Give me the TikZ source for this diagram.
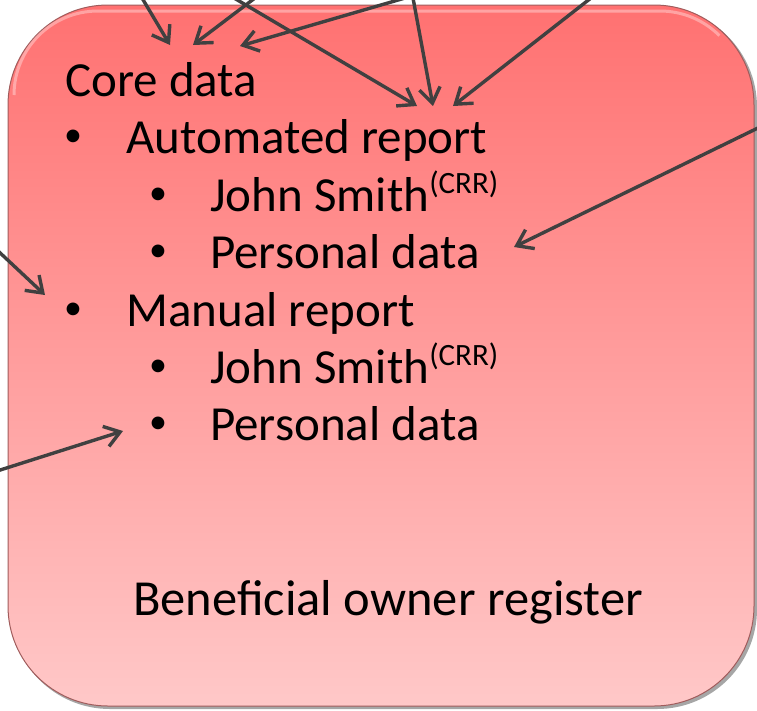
\documentclass[tikz,border=0pt]{standalone}
\usepackage{fontspec}
\setmainfont{Carlito}
\usetikzlibrary{arrows.meta}
\definecolor{arrowgray}{RGB}{64,64,64}
\definecolor{boxtop}{RGB}{255,113,113}
\definecolor{boxbot}{RGB}{255,200,200}
\definecolor{boxedge}{RGB}{160,92,92}
\newcommand\crrsup{\raisebox{18pt}{\fontsize{31}{31}\selectfont (CRR)}}
\newcommand\boxpath[4]{(#1,#2+100) arc[start angle=180,end angle=270,radius=100] -- (#3-100,#2) arc[start angle=270,end angle=360,radius=100] -- (#3,#4-100) arc[start angle=0,end angle=90,radius=100] -- (#1+100,#4) arc[start angle=90,end angle=180,radius=100] -- cycle}
\begin{document}
\begin{tikzpicture}[x=1pt,y=-1pt,
  conn/.style={draw=arrowgray,line width=3.4pt,-{Straight Barb[length=15pt,width=21pt]}},
  txt/.style={font=\fontsize{49}{58}\selectfont,anchor=base west,inner sep=0pt},
  bul/.style={font=\fontsize{36}{40}\selectfont,anchor=base,inner sep=0pt}]
\useasboundingbox (0,0) rectangle (757,710);
\clip (0,0) rectangle (757,710);
% box
\fill[black,opacity=0.35] \boxpath{10}{7}{757}{709};
\shade[top color=boxtop,bottom color=boxbot] \boxpath{8}{5}{754}{706};
\draw[boxedge,line width=1pt] \boxpath{8}{5}{754}{706};
\draw[white,opacity=0.35,line width=3pt] (14,95) arc[start angle=180,end angle=270,radius=84] -- (660,11) arc[start angle=270,end angle=315,radius=84];
% texts
\node[txt] (core) at (65,96) {Core data};
\node[bul] (b1) at (73,146) {•};
\node[txt] (auto) at (126,153) {Automated report};
\node[bul] (b2) at (158,204) {•};
\node[txt] (js1) at (210,211) {John Smith\crrsup};
\node[bul] (b3) at (158,261) {•};
\node[txt] (pd1) at (210,268) {Personal data};
\node[bul] (b4) at (73,319) {•};
\node[txt] (man) at (126,326) {Manual report};
\node[bul] (b5) at (158,376) {•};
\node[txt] (js2) at (210,383) {John Smith\crrsup};
\node[bul] (b6) at (158,433) {•};
\node[txt] (pd2) at (210,440) {Personal data};
\node[font=\fontsize{50.5}{58}\selectfont,anchor=base,inner sep=0pt] (ben) at (388,615) {Beneficial owner register};
% arrow ends
\coordinate (a1s) at (142,-2);  \coordinate (a1t) at (170,45);
\coordinate (a2s) at (255,-2);  \coordinate (a2t) at (193,45);
\coordinate (a3s) at (405,-2);  \coordinate (a3t) at (240,46);
\coordinate (a4s) at (234,-2);  \coordinate (a4t) at (417,106);
\coordinate (a5s) at (413,-2);  \coordinate (a5t) at (433,106);
\coordinate (a6s) at (591,-2);  \coordinate (a6t) at (453,106);
\coordinate (a7s) at (762,126); \coordinate (a7t) at (514,247);
\coordinate (a8s) at (-3,250);  \coordinate (a8t) at (45,295);
\coordinate (a9s) at (-3,471);  \coordinate (a9t) at (123,431);
\foreach \i in {1,...,9} {\draw[conn] (a\i s) -- (a\i t);}
\end{tikzpicture}
\end{document}
